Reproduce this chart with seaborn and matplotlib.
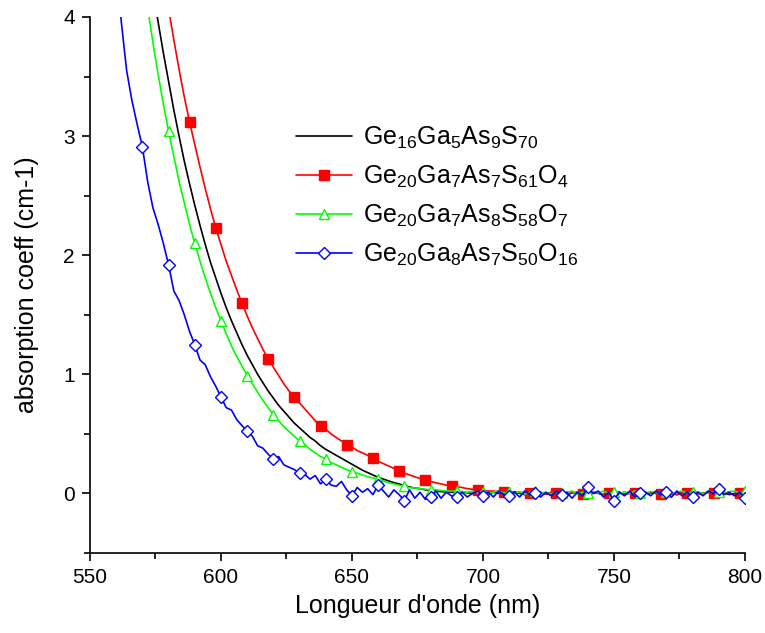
import numpy as np
import pandas as pd
import seaborn as sns
from matplotlib import pyplot as plt
from matplotlib.ticker import MultipleLocator

# wavelength grid (nm), 2 nm steps
wavelength = np.arange(550, 802, 2)

ge16 = [
    9.8, 9.1, 8.5, 7.9, 7.3, 6.8, 6.3, 5.9, 5.5, 5.1,
    4.8, 4.5, 4.22, 3.96, 3.70, 3.46, 3.22, 3.00, 2.79, 2.60,
    2.42, 2.25, 2.09, 1.94, 1.81, 1.68, 1.56, 1.45, 1.35, 1.25,
    1.16, 1.08, 1.00, 0.93, 0.86, 0.80, 0.74, 0.69, 0.64, 0.59,
    0.55, 0.51, 0.47, 0.44, 0.40, 0.37, 0.345, 0.32, 0.295, 0.27,
    0.245, 0.22, 0.195, 0.175, 0.155, 0.135, 0.12, 0.105, 0.09, 0.08,
    0.065, 0.055, 0.045, 0.04, 0.03, 0.025, 0.02, 0.015, 0.012, 0.01,
    0.008, 0.01, 0.005, 0.0, 0.01, 0.0, -0.005, 0.01, 0.0, 0.005,
    -0.005, 0.01, 0.0, -0.01, 0.005, 0.0, 0.01, -0.005, 0.0, 0.005,
    0.0, -0.01, 0.005, 0.01, 0.0, -0.005, 0.005, 0.0, -0.01, 0.005,
    0.0, 0.01, -0.005, 0.0, 0.005, -0.01, 0.0, 0.01, 0.0, -0.005,
    0.005, 0.0, -0.01, 0.01, 0.0, -0.005, 0.005, 0.0, 0.01, -0.005,
    0.0, 0.005, -0.01, 0.0, 0.01, 0.0,
]

ge20_o4 = [
    11.5, 10.7, 10.0, 9.3, 8.6, 8.0, 7.4, 6.9, 6.4, 6.0,
    5.65, 5.3, 4.97, 4.65, 4.35, 4.07, 3.81, 3.56, 3.33, 3.12,
    2.93, 2.74, 2.56, 2.39, 2.23, 2.09, 1.95, 1.83, 1.71, 1.60,
    1.49, 1.39, 1.30, 1.21, 1.13, 1.06, 0.99, 0.92, 0.86, 0.81,
    0.76, 0.71, 0.66, 0.61, 0.57, 0.54, 0.50, 0.47, 0.44, 0.41,
    0.39, 0.36, 0.34, 0.32, 0.30, 0.27, 0.25, 0.23, 0.21, 0.19,
    0.17, 0.155, 0.14, 0.125, 0.11, 0.10, 0.09, 0.08, 0.07, 0.06,
    0.055, 0.05, 0.04, 0.035, 0.03, 0.025, 0.02, 0.02, 0.015, 0.015,
    0.01, 0.015, 0.005, 0.01, 0.0, 0.01, 0.005, -0.005, 0.01, 0.0,
    0.005, -0.01, 0.01, 0.0, -0.005, 0.01, 0.0, 0.005, -0.01, 0.005,
    0.0, 0.01, -0.005, 0.005, 0.0, -0.01, 0.01, 0.0, 0.005, -0.005,
    0.01, 0.0, -0.01, 0.005, 0.0, 0.01, -0.005, 0.0, 0.01, 0.0,
    -0.005, 0.01, 0.0, -0.01, 0.005, 0.01,
]

ge20_o7 = [
    9.1, 8.5, 7.9, 7.3, 6.8, 6.35, 5.9, 5.47, 5.08, 4.72,
    4.39, 4.08, 3.79, 3.52, 3.27, 3.04, 2.83, 2.62, 2.44, 2.26,
    2.10, 1.95, 1.81, 1.68, 1.56, 1.45, 1.34, 1.24, 1.15, 1.07,
    0.99, 0.92, 0.85, 0.78, 0.72, 0.66, 0.61, 0.56, 0.52, 0.48,
    0.44, 0.41, 0.37, 0.34, 0.31, 0.29, 0.26, 0.24, 0.22, 0.20,
    0.18, 0.17, 0.155, 0.14, 0.13, 0.12, 0.105, 0.09, 0.08, 0.07,
    0.06, 0.05, 0.045, 0.04, 0.035, 0.03, 0.03, 0.025, 0.02, 0.02,
    0.02, 0.015, 0.01, 0.02, 0.005, 0.015, 0.0, 0.01, 0.02, 0.005,
    0.01, 0.0, 0.015, -0.005, 0.01, 0.02, 0.0, 0.01, -0.005, 0.015,
    0.0, 0.01, 0.02, -0.005, 0.01, 0.0, 0.015, 0.005, 0.02, 0.0,
    0.01, -0.005, 0.015, 0.0, 0.02, 0.005, 0.0, 0.015, 0.01, -0.005,
    0.015, 0.0, 0.01, 0.02, 0.0, 0.01, 0.015, -0.005, 0.02, 0.005,
    0.01, 0.0, 0.015, 0.02, 0.005, 0.02,
]

ge20_o16 = [
    8.5, 7.6, 6.8, 5.9, 5.1, 4.45, 3.95, 3.55, 3.30, 3.10,
    2.91, 2.62, 2.40, 2.26, 2.10, 1.92, 1.70, 1.62, 1.50, 1.36,
    1.25, 1.12, 1.08, 0.98, 0.90, 0.81, 0.72, 0.70, 0.62, 0.57,
    0.52, 0.48, 0.40, 0.38, 0.33, 0.29, 0.31, 0.24, 0.22, 0.20,
    0.17, 0.16, 0.12, 0.15, 0.08, 0.12, 0.07, 0.06, 0.10, 0.03,
    -0.02, 0.05, 0.01, 0.04, -0.01, 0.07, 0.02, -0.03, 0.03, -0.01,
    -0.06, 0.03, -0.04, 0.01, -0.05, -0.03, 0.02, -0.04, 0.01, -0.02,
    -0.03, 0.01, -0.03, 0.00, 0.02, -0.02, 0.01, -0.03, 0.02, -0.01,
    -0.02, 0.01, -0.03, 0.02, -0.01, 0.00, -0.03, 0.01, -0.02, 0.02,
    -0.01, 0.01, -0.04, 0.01, -0.02, 0.05, 0.00, 0.02, -0.03, 0.01,
    -0.06, 0.01, -0.02, 0.02, -0.03, 0.00, 0.01, -0.02, 0.02, -0.01,
    0.01, -0.03, 0.02, -0.02, 0.01, -0.03, 0.01, -0.02, 0.02, 0.00,
    0.04, -0.01, 0.01, -0.02, 0.01, -0.04,
]

labels = [
    r"$\mathregular{Ge_{16}Ga_{5}As_{9}S_{70}}$",
    r"$\mathregular{Ge_{20}Ga_{7}As_{7}S_{61}O_{4}}$",
    r"$\mathregular{Ge_{20}Ga_{7}As_{8}S_{58}O_{7}}$",
    r"$\mathregular{Ge_{20}Ga_{8}As_{7}S_{50}O_{16}}$",
]

sns.set_style("ticks")
plt.rcParams["font.family"] = ["Liberation Sans", "DejaVu Sans"]
plt.rcParams["mathtext.fontset"] = "custom"
plt.rcParams["mathtext.rm"] = "Liberation Sans"
plt.rcParams["text.color"] = "black"
plt.rcParams["axes.labelcolor"] = "black"
plt.rcParams["xtick.color"] = "black"
plt.rcParams["ytick.color"] = "black"

fig = plt.figure(figsize=(7.65, 6.33), dpi=100)
ax = fig.add_axes([0.1176, 0.1264, 0.8562, 0.8468])

# (series, color, marker, marker fill, marker size, first marker index)
styles = [
    (ge16, "black", None, None, 0, 0),
    (ge20_o4, "#ff0000", "s", "#ff0000", 6.5, 19),
    (ge20_o7, "#00ff00", "^", "white", 7.5, 15),
    (ge20_o16, "#0000ff", "D", "white", 6, 10),
]

for (vals, col, mk, fill, ms, start), lab in zip(styles, labels):
    df = pd.DataFrame({"wl": wavelength, "abs": vals})
    kw = dict(color=col, linewidth=1.2, label=lab)
    if mk is not None:
        kw.update(marker=mk, markevery=slice(start, None, 5),
                  markerfacecolor=fill, markeredgecolor=col,
                  markersize=ms, markeredgewidth=1.0)
    sns.lineplot(data=df, x="wl", y="abs", ax=ax, **kw)

ax.set_xlim(550, 800)
ax.set_ylim(-0.5, 4)
ax.xaxis.set_major_locator(MultipleLocator(50))
ax.xaxis.set_minor_locator(MultipleLocator(25))
ax.yaxis.set_major_locator(MultipleLocator(1))
ax.yaxis.set_minor_locator(MultipleLocator(0.5))
ax.tick_params(which="major", direction="out", length=6, width=1.2,
               labelsize=15, color="black", labelcolor="black", pad=5)
ax.tick_params(which="minor", direction="out", length=4, width=1.2, color="black")
for side in ["top", "right"]:
    ax.spines[side].set_visible(False)
for side in ["left", "bottom"]:
    ax.spines[side].set_linewidth(1.2)
    ax.spines[side].set_color("black")

ax.set_xlabel("Longueur d'onde (nm)", fontsize=18, labelpad=5, color="black")
ax.set_ylabel("absorption coeff (cm-1)", fontsize=18, labelpad=17, color="black")

leg = ax.legend(loc="upper left", bbox_to_anchor=(0.28, 0.84), frameon=False,
                fontsize=18, handlelength=2.25, labelspacing=0.5, handletextpad=0.45)
for t in leg.get_texts():
    t.set_color("black")

plt.savefig("out.png", dpi=100)
